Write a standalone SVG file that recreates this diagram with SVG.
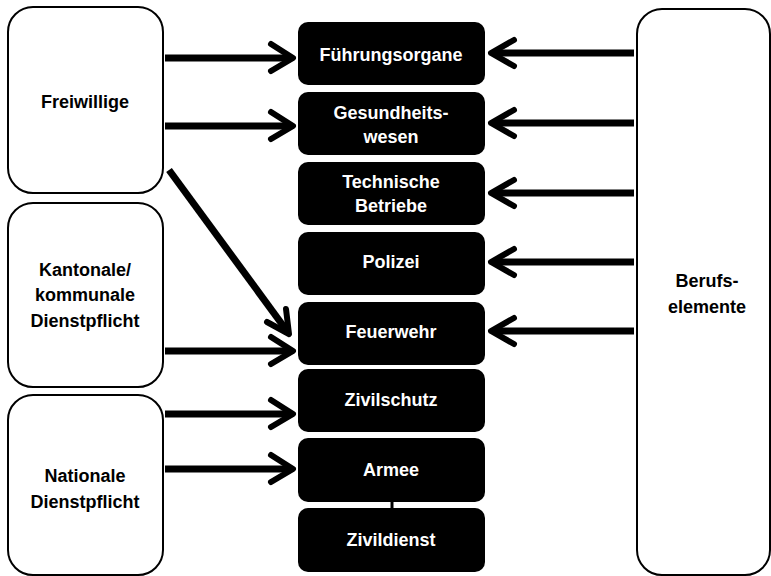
<svg xmlns="http://www.w3.org/2000/svg" width="771" height="576" viewBox="0 0 771 576">
<style>
.src{fill:#fff;stroke:#000;stroke-width:2}
.dst{fill:#000}
.t{font-family:"Liberation Sans",Arial,sans-serif;font-weight:bold;font-size:18px;text-anchor:middle}
.tw{fill:#fff}
.tb{fill:#000}
.c{stroke:#000;stroke-width:7;fill:none}
.h{stroke:#000;stroke-width:6;fill:none;stroke-linecap:round;stroke-linejoin:round}
</style>
<rect width="771" height="576" fill="#fff"/>
<g id="freiwillige"><rect class="src" x="8" y="7" width="155" height="186" rx="25"/><text class="t tb" x="85" y="108">Freiwillige</text></g>
<g id="kantonale"><rect class="src" x="8" y="203" width="155" height="184" rx="25"/><text class="t tb" x="85" y="276">Kantonale/</text><text class="t tb" x="85" y="301">kommunale</text><text class="t tb" x="85" y="327">Dienstpflicht</text></g>
<g id="nationale"><rect class="src" x="8" y="395" width="155" height="180" rx="25"/><text class="t tb" x="85" y="482">Nationale</text><text class="t tb" x="85" y="508">Dienstpflicht</text></g>
<g id="berufselemente"><rect class="src" x="637" y="9" width="133" height="566" rx="25"/><text class="t tb" x="707" y="287">Berufs-</text><text class="t tb" x="707" y="313">elemente</text></g>
<g id="fuehrungsorgane"><rect class="dst" x="298" y="22" width="187" height="63" rx="10"/><text class="t tw" x="391" y="61">Führungsorgane</text></g>
<g id="gesundheitswesen"><rect class="dst" x="298" y="92" width="187" height="63" rx="10"/><text class="t tw" x="391" y="119">Gesundheits-</text><text class="t tw" x="391" y="143">wesen</text></g>
<g id="technische"><rect class="dst" x="298" y="162" width="187" height="63" rx="10"/><text class="t tw" x="391" y="188">Technische</text><text class="t tw" x="391" y="212">Betriebe</text></g>
<g id="polizei"><rect class="dst" x="298" y="232" width="187" height="63" rx="10"/><text class="t tw" x="391" y="268">Polizei</text></g>
<g id="feuerwehr"><rect class="dst" x="298" y="302" width="187" height="63" rx="10"/><text class="t tw" x="391" y="338">Feuerwehr</text></g>
<g id="zivilschutz"><rect class="dst" x="298" y="369" width="187" height="63" rx="10"/><text class="t tw" x="391" y="406">Zivilschutz</text></g>
<g id="armee"><rect class="dst" x="298" y="438" width="187" height="64" rx="10"/><text class="t tw" x="391" y="476">Armee</text></g>
<g id="zivildienst"><rect class="dst" x="298" y="508" width="187" height="64" rx="10"/><text class="t tw" x="391" y="546">Zivildienst</text></g>
<g id="connectors">
<line x1="392" y1="502" x2="392" y2="508" stroke="#000" stroke-width="3"/>
<line class="c" x1="165" y1="58" x2="292" y2="58"/><polyline class="h" points="271,44 293,58 271,71"/>
<line class="c" x1="165" y1="126" x2="292" y2="126"/><polyline class="h" points="271,112 293,126 271,139"/>
<line class="c" x1="169" y1="170" x2="287" y2="331"/><polyline class="h" points="267,322 289,334 286,309"/>
<line class="c" x1="165" y1="351" x2="292" y2="351"/><polyline class="h" points="271,337 293,351 271,364"/>
<line class="c" x1="165" y1="414" x2="292" y2="414"/><polyline class="h" points="271,400 293,414 271,427"/>
<line class="c" x1="165" y1="469" x2="292" y2="469"/><polyline class="h" points="271,455 293,469 271,482"/>
<line class="c" x1="634" y1="53" x2="492" y2="53"/><polyline class="h" points="514,40 491,53 514,66"/>
<line class="c" x1="634" y1="123" x2="492" y2="123"/><polyline class="h" points="514,110 491,123 514,136"/>
<line class="c" x1="634" y1="193" x2="492" y2="193"/><polyline class="h" points="514,180 491,193 514,206"/>
<line class="c" x1="634" y1="262" x2="492" y2="262"/><polyline class="h" points="514,249 491,262 514,275"/>
<line class="c" x1="634" y1="331" x2="492" y2="331"/><polyline class="h" points="514,318 491,331 514,344"/>
</g>
</svg>
